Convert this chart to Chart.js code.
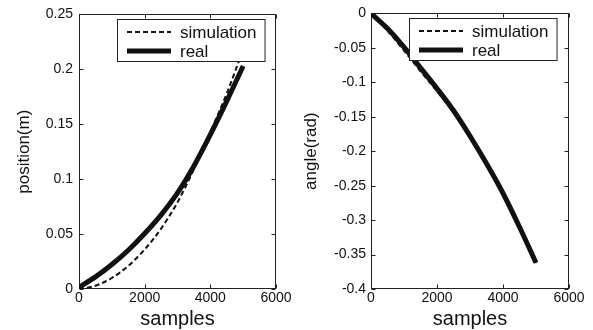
<!DOCTYPE html>
<html>
<head>
<meta charset="utf-8">
<script src="https://cdn.jsdelivr.net/npm/chart.js@4.4.1/dist/chart.umd.min.js"></script>
<style>
html, body { margin: 0; padding: 0; background: #fff; }
#wrap { position: relative; width: 593px; height: 330px; }
canvas { position: absolute; top: 0; }
</style>
</head>
<body>
<div id="wrap">
  <canvas id="posChart" width="296" height="330" style="left:0"></canvas>
  <canvas id="angChart" width="297" height="330" style="left:296px"></canvas>
</div>
<script>
// values
var samples      = [0, 500, 1000, 1500, 2000, 2500, 3000, 3500, 4000, 4500, 5000];
var positionSim  = [0, 0.003, 0.010, 0.021, 0.036, 0.055, 0.079, 0.109, 0.143, 0.178, 0.218];
var positionReal = [0.0015, 0.011, 0.0223, 0.0353, 0.0505, 0.0675, 0.0875, 0.112, 0.1405, 0.171, 0.203];
var angleSim     = [0, -0.025, -0.054, -0.084, -0.113, -0.144, -0.180, -0.219, -0.262, -0.310, -0.362];
var angleReal    = [0, -0.022, -0.049, -0.079, -0.109, -0.141, -0.178, -0.218, -0.261, -0.310, -0.362];

var FONT = '"Liberation Sans", Arial, Helvetica, sans-serif';
var INK = '#111';

function toPoints(ys) {
    return samples.map(function (s, i) { return {x: s, y: ys[i]}; });
}

function fmt(v) {
    return String(+Number(v).toFixed(4));
}

// matlab style box with inward ticks on all four sides
var frameBox = {
    id: 'frameBox',
    beforeDatasetsDraw: function (chart) {
        var ctx = chart.ctx, a = chart.chartArea;
        var xs = chart.scales.x, ys = chart.scales.y;
        var L = Math.round(a.left) + 0.5, R = Math.round(a.right) - 0.5;
        var T = Math.round(a.top) + 0.5, B = Math.round(a.bottom) - 0.5;
        ctx.save();
        ctx.strokeStyle = '#222';
        ctx.lineWidth = 1;
        ctx.strokeRect(L, T, R - L, B - T);
        ctx.beginPath();
        xs.ticks.forEach(function (t) {
            var px = Math.round(xs.getPixelForValue(t.value)) + 0.5;
            ctx.moveTo(px, B); ctx.lineTo(px, B - 4);
            ctx.moveTo(px, T); ctx.lineTo(px, T + 4);
        });
        ys.ticks.forEach(function (t) {
            var py = Math.round(ys.getPixelForValue(t.value)) + 0.5;
            ctx.moveTo(L, py); ctx.lineTo(L + 4, py);
            ctx.moveTo(R, py); ctx.lineTo(R - 4, py);
        });
        ctx.stroke();
        ctx.restore();
    }
};

// white legend box in the upper part of the plot
var boxLegend = {
    id: 'boxLegend',
    afterDatasetsDraw: function (chart) {
        var ctx = chart.ctx, a = chart.chartArea;
        var sets = chart.data.datasets;
        ctx.save();
        ctx.font = '17px ' + FONT;
        var tw = 0;
        sets.forEach(function (d) { tw = Math.max(tw, ctx.measureText(d.label).width); });
        var x0 = Math.round(a.left) + 38, y0 = Math.round(a.top) + 5;
        var w = 63 + tw + 8, h = 42;
        ctx.fillStyle = '#fff';
        ctx.fillRect(x0, y0, w, h);
        ctx.strokeStyle = '#222';
        ctx.lineWidth = 1;
        ctx.strokeRect(x0 + 0.5, y0 + 0.5, w, h);
        sets.forEach(function (d, i) {
            var ly = y0 + 13 + i * 19;
            ctx.setLineDash(d.borderDash || []);
            ctx.lineWidth = d.borderWidth;
            ctx.strokeStyle = d.borderColor;
            ctx.beginPath();
            ctx.moveTo(x0 + 10, ly);
            ctx.lineTo(x0 + 54, ly);
            ctx.stroke();
            ctx.setLineDash([]);
            ctx.fillStyle = INK;
            ctx.textBaseline = 'middle';
            ctx.fillText(d.label, x0 + 63, ly + 1);
        });
        ctx.restore();
    }
};

function makeChart(id, sim, real, yMin, yMax, yTitle, yWidth, titlePad, tickPad, padRight) {
    return new Chart(document.getElementById(id), {
        type: 'line',
        data: {
            datasets: [{
                label: 'simulation',
                data: toPoints(sim),
                borderColor: INK,
                borderWidth: 2,
                borderDash: [5, 3],
                pointRadius: 0,
                cubicInterpolationMode: 'monotone',
                fill: false
            }, {
                label: 'real',
                data: toPoints(real),
                borderColor: INK,
                borderWidth: 5,
                pointRadius: 0,
                cubicInterpolationMode: 'monotone',
                fill: false
            }]
        },
        options: {
            responsive: false,
            animation: false,
            events: [],
            layout: {padding: {top: 2, right: padRight, left: 0, bottom: 0}},
            plugins: {legend: {display: false}, tooltip: {enabled: false}},
            scales: {
                x: {
                    type: 'linear',
                    min: 0,
                    max: 6000,
                    afterFit: function (s) { s.height = 41; },
                    grid: {display: false, drawTicks: false},
                    border: {display: false},
                    ticks: {stepSize: 2000, padding: 1, color: INK, font: {family: FONT, size: 14},
                            maxRotation: 0, autoSkip: false, callback: fmt},
                    title: {display: true, text: 'samples', color: INK,
                            font: {family: FONT, size: 20, lineHeight: 1}, padding: {top: 0, bottom: 1}}
                },
                y: {
                    min: yMin,
                    max: yMax,
                    afterFit: function (s) { s.width = yWidth; },
                    grid: {display: false, drawTicks: false},
                    border: {display: false},
                    ticks: {stepSize: 0.05, padding: tickPad, color: INK, font: {family: FONT, size: 14},
                            autoSkip: false, callback: fmt},
                    title: {display: true, text: yTitle, color: INK,
                            font: {family: FONT, size: 17, lineHeight: 1.2}, padding: {top: titlePad, bottom: 0}}
                }
            }
        },
        plugins: [frameBox, boxLegend]
    });
}

makeChart('posChart', positionSim, positionReal, 0, 0.25, 'position(m)', 79, 14, 6, 20);
makeChart('angChart', angleSim, angleReal, -0.4, 0, 'angle(rad)', 75, 5, 5, 24);
</script>
</body>
</html>
